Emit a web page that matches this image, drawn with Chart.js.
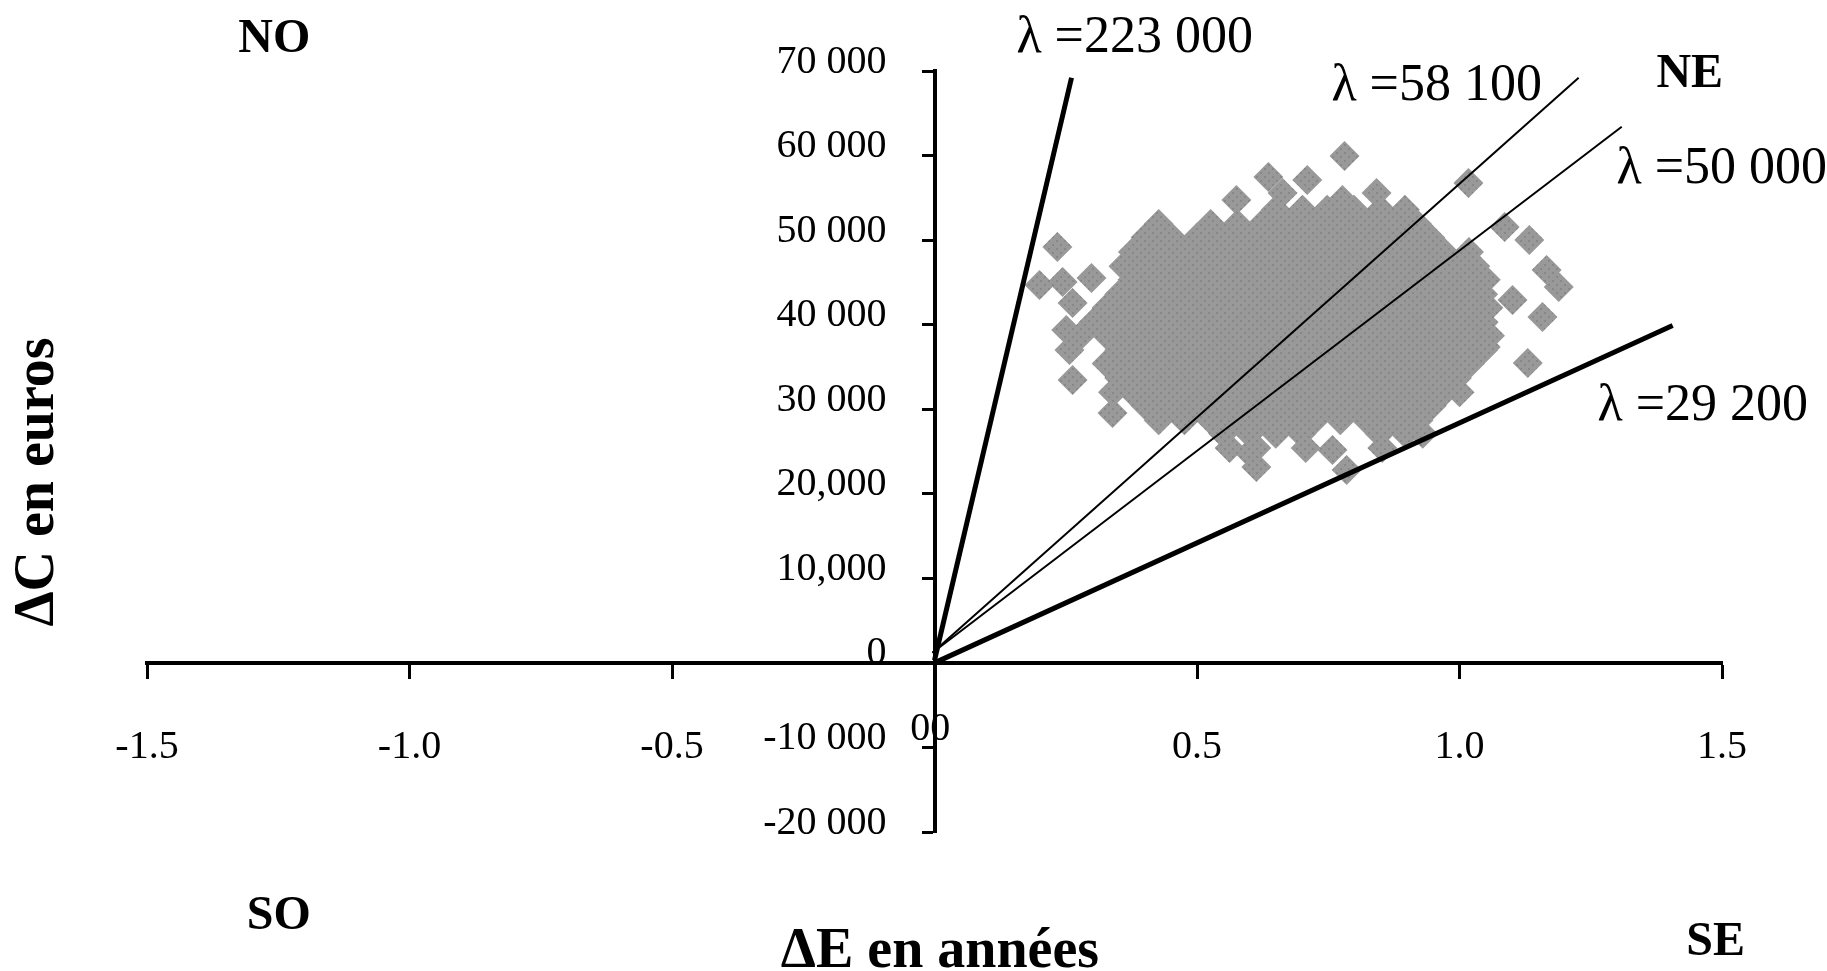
<!DOCTYPE html>
<html>
<head>
<meta charset="utf-8">
<title>Plan coût-efficacité</title>
<script src="https://cdn.jsdelivr.net/npm/chart.js@4.4.1/dist/chart.umd.min.js"></script>
<style>
  html, body { margin: 0; padding: 0; background: #fff; }
  #wrap { position: relative; width: 1827px; height: 971px; }
</style>
</head>
<body>
<div id="wrap"><canvas id="plan"></canvas></div>
<script>
// tick labels, as printed on the figure
const xTicks = ["-1.5", "-1.0", "-0.5", "", "0.5", "1.0", "1.5"];
const yTicks = ["-20 000", "-10 000", "0", "10,000", "20,000", "30 000", "40 000", "50 000", "60 000", "70 000"];

// willingness-to-pay lines: start / end of each, in (ΔE, ΔC)
const lambdas = ["λ =223 000", "λ =58 100", "λ =50 000", "λ =29 200"];
const lineE = [[0, 0.261], [-0.004, 1.227], [-0.004, 1.309], [0, 1.406]];
const lineC = [[300, 69200], [1200, 69200], [1200, 63400], [0, 39900]];

// simulated (ΔE, ΔC) pairs, read row by row off the cloud
const rowCost = [53600, 51900, 50300, 48600, 46900, 45300, 43600, 42000, 40300,
  38700, 37000, 35400, 33700, 32000, 30400, 28700, 27100, 25400];
const rowEffect = [
  [0.650, 0.701, 0.748, 0.799, 0.850, 0.896],
  [0.427, 0.526, 0.577, 0.624, 0.675, 0.722, 0.774, 0.823, 0.871, 0.919],
  [0.402, 0.452, 0.500, 0.551, 0.601, 0.648, 0.700, 0.749, 0.797, 0.849, 0.898, 0.944],
  [0.378, 0.427, 0.476, 0.525, 0.576, 0.625, 0.673, 0.724, 0.774, 0.822, 0.873, 0.921, 0.970, 1.018],
  [0.360, 0.403, 0.451, 0.502, 0.549, 0.600, 0.651, 0.699, 0.748, 0.799, 0.847, 0.898, 0.946, 0.995, 1.030],
  [0.377, 0.428, 0.475, 0.526, 0.574, 0.626, 0.674, 0.723, 0.772, 0.824, 0.872, 0.921, 0.972, 1.020, 1.050],
  [0.352, 0.401, 0.452, 0.500, 0.551, 0.599, 0.650, 0.700, 0.748, 0.798, 0.849, 0.897, 0.947, 0.996, 1.045],
  [0.328, 0.378, 0.426, 0.477, 0.525, 0.576, 0.624, 0.674, 0.725, 0.773, 0.822, 0.873, 0.921, 0.972, 1.020, 1.055],
  [0.303, 0.352, 0.402, 0.450, 0.501, 0.551, 0.600, 0.649, 0.699, 0.750, 0.798, 0.848, 0.897, 0.948, 0.996, 1.046],
  [0.278, 0.329, 0.377, 0.427, 0.475, 0.526, 0.575, 0.626, 0.673, 0.724, 0.773, 0.823, 0.872, 0.921, 0.971, 1.021, 1.058],
  [0.352, 0.402, 0.451, 0.500, 0.550, 0.601, 0.650, 0.698, 0.749, 0.799, 0.847, 0.897, 0.947, 0.996, 1.045],
  [0.328, 0.377, 0.427, 0.476, 0.526, 0.575, 0.624, 0.674, 0.724, 0.773, 0.823, 0.872, 0.922, 0.971, 1.020],
  [0.352, 0.401, 0.451, 0.501, 0.550, 0.600, 0.650, 0.699, 0.749, 0.798, 0.848, 0.897, 0.947, 0.995],
  [0.340, 0.377, 0.427, 0.476, 0.526, 0.575, 0.625, 0.674, 0.724, 0.773, 0.823, 0.872, 0.922, 0.971, 1.000],
  [0.402, 0.451, 0.501, 0.550, 0.600, 0.650, 0.699, 0.749, 0.798, 0.848, 0.897, 0.947],
  [0.427, 0.476, 0.526, 0.575, 0.625, 0.674, 0.724, 0.773, 0.823, 0.872, 0.922],
  [0.550, 0.600, 0.650, 0.699, 0.848, 0.897, 0.930],
  [0.562, 0.613, 0.707, 0.853]
];
// the loose points around the cloud
const strayEffect = [0.781, 0.636, 0.710, 0.663, 0.575, 0.842, 0.777, 1.017, 0.234, 0.200,
  0.244, 0.299, 0.263, 0.251, 0.257, 0.263, 0.339, 1.086, 1.133, 1.166,
  1.189, 1.101, 1.158, 1.130, 1.050, 0.600, 0.613, 0.758, 0.785];
const strayCost = [59950, 57470, 57110, 55580, 54750, 55580, 54750, 56760, 49190, 44700,
  45050, 45530, 42570, 39380, 37010, 33460, 29560, 51560, 50020, 46470,
  44460, 42920, 40910, 35480, 37370, 24830, 23180, 25190, 22820];

const cloud = [];
rowCost.forEach((c, r) => rowEffect[r].forEach((e) => cloud.push({ x: e, y: c })));
strayEffect.forEach((e, i) => cloud.push({ x: e, y: strayCost[i] }));

// grey dotted fill like the printed markers
function cloudFill() {
  const c = document.createElement("canvas");
  c.width = 8;
  c.height = 8;
  const g = c.getContext("2d");
  g.fillStyle = "#999999";
  g.fillRect(0, 0, 8, 8);
  g.fillStyle = "#888888";
  g.fillRect(0, 0, 2, 2);
  g.fillRect(4, 4, 2, 2);
  return g.createPattern(c, "repeat");
}

const lineWidths = [5, 2, 2, 5];
const datasets = lambdas.map((name, i) => ({
  label: name,
  data: [{ x: lineE[i][0], y: lineC[i][0] }, { x: lineE[i][1], y: lineC[i][1] }],
  showLine: true,
  borderColor: "#000",
  borderWidth: lineWidths[i],
  pointRadius: 0,
  order: 0,
}));
datasets.push({
  label: "simulations",
  data: cloud,
  pointStyle: "rectRot",
  pointRadius: 15,
  pointBorderWidth: 0,
  pointBackgroundColor: cloudFill(),
  order: 1,
});

// where the text labels sit, in (ΔE, ΔC)
const lambdaAt = [[0.156, 72250], [0.756, 66570], [1.299, 56760], [1.263, 28730]];
const quadrants = ["NO", "NE", "SO", "SE"];
const quadrantAt = [[-1.326, 72250], [1.375, 68110], [-1.310, -31450], [1.432, -34530]];

const texts = {
  id: "texts",
  afterDraw(chart) {
    const { ctx, scales: { x, y } } = chart;
    ctx.save();
    ctx.fillStyle = "#000";
    ctx.textBaseline = "alphabetic";
    ctx.textAlign = "left";
    ctx.font = '52px "Liberation Serif"';
    lambdas.forEach((t, i) => ctx.fillText(t, x.getPixelForValue(lambdaAt[i][0]), y.getPixelForValue(lambdaAt[i][1])));
    ctx.font = 'bold 48px "Liberation Serif"';
    quadrants.forEach((t, i) => ctx.fillText(t, x.getPixelForValue(quadrantAt[i][0]), y.getPixelForValue(quadrantAt[i][1])));
    // the zero of the ΔE axis, printed under the origin
    ctx.font = '40px "Liberation Serif"';
    ctx.textAlign = "center";
    ctx.fillText("00", x.getPixelForValue(-0.008), y.getPixelForValue(-9100));
    ctx.font = 'bold 56px "Liberation Serif"';
    ctx.fillText("ΔE en années", 940, 967);
    ctx.translate(53, 482);
    ctx.rotate(-Math.PI / 2);
    ctx.fillText("ΔC en euros", 0, 0);
    ctx.restore();
  },
};

new Chart(document.getElementById("plan"), {
  type: "scatter",
  data: { datasets: datasets },
  options: {
    responsive: true,
    maintainAspectRatio: false,
    animation: false,
    events: [],
    layout: { padding: { left: 147, right: 105, top: 71, bottom: 139 } },
    plugins: { legend: { display: false }, tooltip: { enabled: false } },
    scales: {
      x: {
        type: "linear",
        position: { y: 0 },
        min: -1.5,
        max: 1.5,
        afterFit: (s) => { s.height = 0; },
        border: { display: true, color: "#000", width: 4 },
        grid: { drawOnChartArea: false, drawTicks: true, tickLength: 14, tickWidth: 3, tickColor: "#000" },
        ticks: {
          stepSize: 0.5,
          autoSkip: false,
          maxRotation: 0,
          padding: 47,
          color: "#000",
          font: { family: "Liberation Serif", size: 40 },
          callback: (v, i) => xTicks[i],
        },
      },
      y: {
        type: "linear",
        position: { x: 0 },
        min: -20000,
        max: 70000,
        afterFit: (s) => { s.width = 0; },
        border: { display: true, color: "#000", width: 4 },
        grid: { drawOnChartArea: false, drawTicks: true, tickLength: 11, tickWidth: 3, tickColor: "#000" },
        ticks: {
          stepSize: 10000,
          autoSkip: false,
          padding: 0,
          labelOffset: -9,
          color: "#000",
          font: { family: "Liberation Serif", size: 40 },
          // labels sit right against an axis placed at x = 0, so pad them with spaces
          callback: (v, i) => yTicks[i] + "\u2002\u2002\u2009",
        },
      },
    },
  },
  plugins: [texts],
});
</script>
</body>
</html>
